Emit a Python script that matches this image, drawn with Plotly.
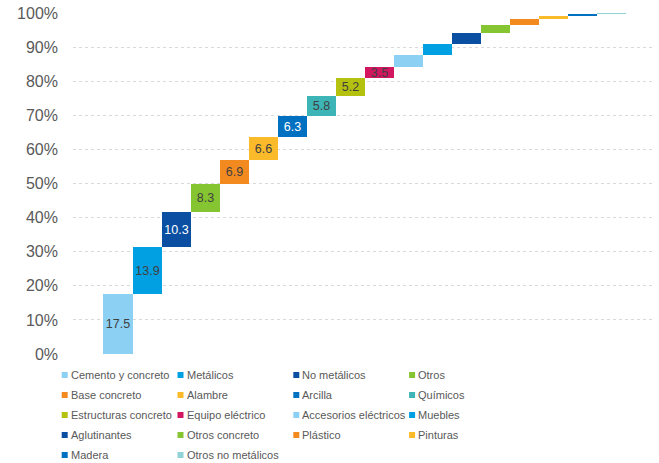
import plotly.graph_objects as go

categories = [
    "Cemento y concreto", "Metálicos", "No metálicos", "Otros",
    "Base concreto", "Alambre", "Arcilla", "Químicos",
    "Estructuras concreto", "Equipo eléctrico", "Accesorios eléctricos", "Muebles",
    "Aglutinantes", "Otros concreto", "Plástico", "Pinturas",
    "Madera", "Otros no metálicos",
]
values = [17.5, 13.9, 10.3, 8.3, 6.9, 6.6, 6.3, 5.8, 5.2, 3.5,
          3.3, 3.4, 3.0, 2.5, 1.6, 1.1, 0.6, 0.2]
labeled = 10  # only the first ten bars carry a data label
colors = [
    "#8CD1F3", "#00A0E3", "#0B4FA2", "#86C532",
    "#F28A20", "#FBBA2A", "#0070C0", "#3DB5B6",
    "#B4C10E", "#D31660", "#8CD1F3", "#00A0E3",
    "#0B4FA2", "#86C532", "#F28A20", "#FBBA2A",
    "#0070C0", "#8FD3D6",
]
label_colors = ["#404040", "#404040", "#FFFFFF", "#404040", "#404040",
                "#404040", "#FFFFFF", "#404040", "#404040", "#404040"]
y_ticks = list(range(0, 101, 10))

bases = []
run = 0.0
for v in values:
    bases.append(run)
    run += v
texts = [f"{v:.1f}" if i < labeled else "" for i, v in enumerate(values)]
tcolors = label_colors + ["#404040"] * (len(values) - labeled)

FONT = "Liberation Sans, Arial, sans-serif"

fig = go.Figure()
fig.add_trace(go.Bar(
    x=categories, y=values, base=bases,
    marker=dict(color=colors, line=dict(width=0)),
    text=texts, textposition="inside", insidetextanchor="middle",
    textangle=0, constraintext="none",
    textfont=dict(family=FONT, size=12.5, color=tcolors),
    cliponaxis=False, showlegend=False,
))

# plot area geometry (pixels)
W, H = 659, 463
L, R, T, B = 73, 4, 13, 109
pw, ph = W - L - R, H - T - B

def px_x(x):
    return (x - L) / pw

def px_y(y):
    return (H - B - y) / ph

shapes = []
annotations = []
col_x = [61.7, 177.5, 293.3, 409.1]
for i, cat in enumerate(categories):
    c, r = i % 4, i // 4
    cx = col_x[c]
    cy = 375 + 20 * r
    shapes.append(dict(type="rect", xref="paper", yref="paper",
                       x0=px_x(cx), x1=px_x(cx + 6), y0=px_y(cy - 3), y1=px_y(cy + 3),
                       fillcolor=colors[i], line=dict(width=0)))
    annotations.append(dict(text=cat, xref="paper", yref="paper",
                            x=px_x(cx + 7), y=px_y(cy), xanchor="left", yanchor="middle",
                            showarrow=False, font=dict(family=FONT, size=11, color="#595959")))

fig.update_layout(
    width=W, height=H,
    margin=dict(l=L, r=R, t=T, b=B, pad=0),
    paper_bgcolor="white", plot_bgcolor="white",
    bargap=0,
    font=dict(family=FONT, color="#595959"),
    xaxis=dict(type="category", range=[-1.55, 18.5], showticklabels=False,
               showgrid=False, zeroline=False, showline=False, ticks=""),
    yaxis=dict(range=[0, 100], tickvals=y_ticks, ticktext=[f"{t}%" for t in y_ticks],
               tickfont=dict(family=FONT, size=16, color="#595959"),
               showgrid=True, gridcolor="#D9D9D9", gridwidth=1, griddash="dot",
               zeroline=False, showline=False, ticks="", ticklabelstandoff=14),
    shapes=shapes, annotations=annotations,
)

fig.write_html("out.html")
